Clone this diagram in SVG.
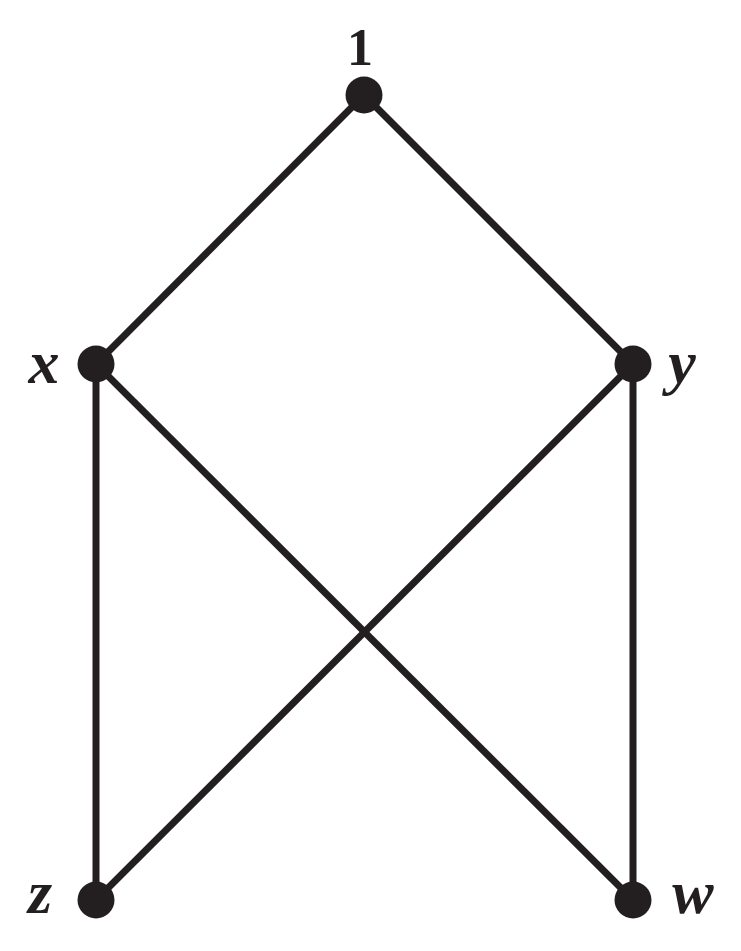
<svg xmlns="http://www.w3.org/2000/svg" width="741" height="951" viewBox="0 0 741 951">
<style>
.e{stroke:#231f20;stroke-width:7;fill:none}
.n{fill:#231f20}
.l{font-family:"Liberation Serif","Times New Roman",serif;font-weight:bold;fill:#231f20}
.i{font-style:italic;font-size:62px}
</style>
<rect width="741" height="951" fill="#fff"/>
<g id="edges">
<line class="e" x1="364" y1="95" x2="96" y2="364"/>
<line class="e" x1="364" y1="95" x2="633" y2="364"/>
<line class="e" x1="96" y1="364" x2="96" y2="900"/>
<line class="e" x1="96" y1="364" x2="633" y2="900"/>
<line class="e" x1="633" y1="364" x2="96" y2="900"/>
<line class="e" x1="633" y1="364" x2="633" y2="900"/>
</g>
<g id="node-1"><circle class="n" cx="364" cy="95" r="18.5"/><text class="l" x="360" y="65" font-size="52" text-anchor="middle">1</text></g>
<g id="node-x"><circle class="n" cx="96" cy="364" r="18.5"/><text class="l i" x="44" y="383" text-anchor="middle">x</text></g>
<g id="node-y"><circle class="n" cx="633" cy="364" r="18.5"/><text class="l i" x="682" y="383" text-anchor="middle">y</text></g>
<g id="node-z"><circle class="n" cx="96" cy="900" r="18.5"/><text class="l i" x="40" y="913" text-anchor="middle">z</text></g>
<g id="node-w"><circle class="n" cx="633" cy="900" r="18.5"/><text class="l i" x="693" y="913" text-anchor="middle">w</text></g>
</svg>
